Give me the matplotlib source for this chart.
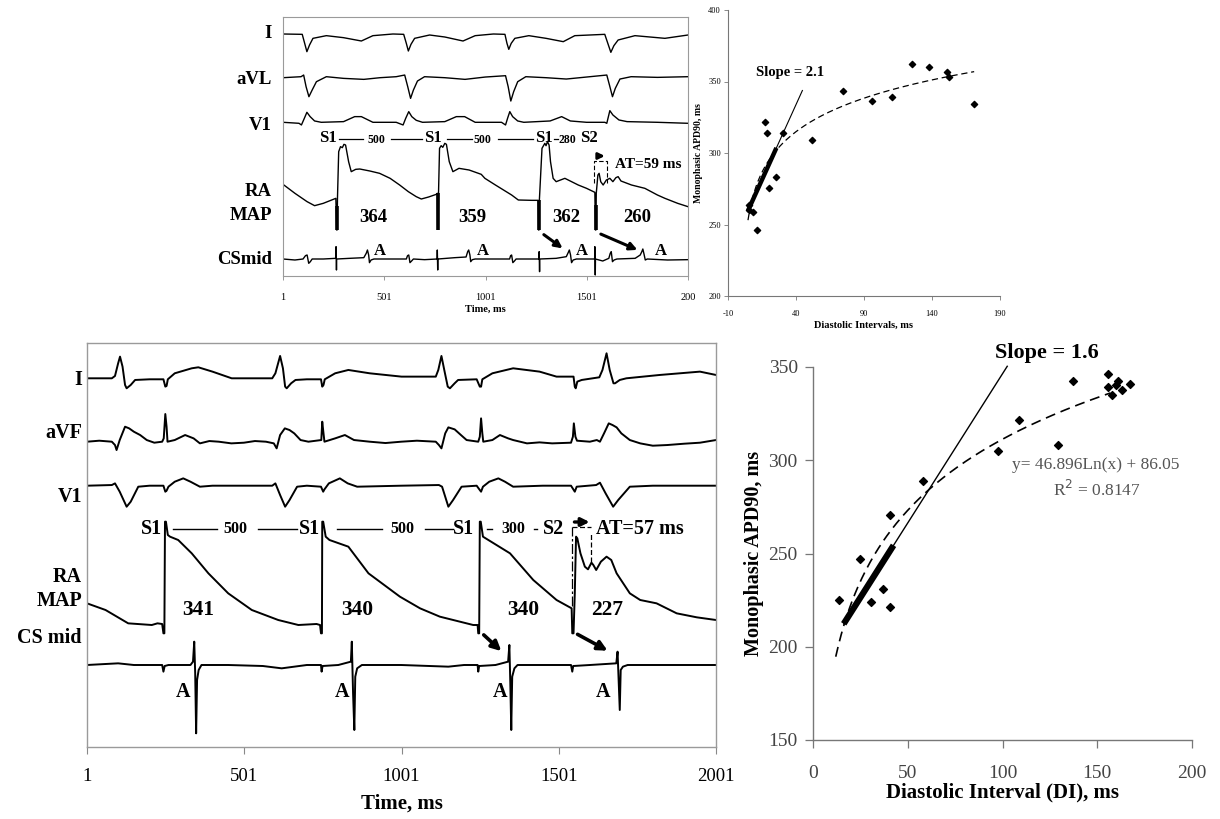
import numpy as np
import matplotlib.pyplot as plt
from matplotlib.transforms import blended_transform_factory

plt.rcParams['font.family'] = ['Liberation Serif', 'DejaVu Serif']
plt.rcParams['axes.unicode_minus'] = False

# ---------------- top recording (time in ms, deflection in screen units) ----------------
TOP_I_T = [1, 96, 108, 119, 132, 149, 215, 300, 388, 445, 544, 597, 610, 620, 633, 651, 725, 800, 890, 950,
           1040, 1097, 1107, 1116, 1128, 1146, 1215, 1300, 1385, 1442, 1590, 1605, 1620, 1635, 1656, 1739, 1887, 2001]
TOP_I_V = [0, -1, -28, -53, -33, -13, -5, -11, -21, -5, 0, -1, -28, -51, -31, -13, -3, -9, -21, -5,
           0, -1, -28, -46, -28, -13, -5, -13, -23, -5, -1, -28, -55, -35, -18, -5, -13, -3]

TOP_AVL_T = [1, 90, 103, 115, 129, 145, 166, 215, 300, 400, 480, 560, 602, 617, 631, 645, 665, 700, 800, 900,
             1000, 1100, 1113, 1126, 1140, 1160, 1200, 1300, 1400, 1500, 1600, 1614, 1628, 1642, 1665, 1720, 1850, 2001]
TOP_AVL_V = [-3, 0, 5, -30, -60, -40, -15, 0, -5, -8, -3, 0, 5, -30, -65, -40, -13, 0, -3, -8,
             -1, 3, -30, -73, -45, -15, 0, -3, -7, -1, 5, -27, -60, -35, -7, 0, -2, 0]

TOP_V1_T = [1, 80, 92, 105, 119, 135, 157, 190, 300, 355, 388, 445, 560, 594, 607, 622, 637, 659, 690, 800, 857,
            898, 950, 1080, 1100, 1110, 1121, 1135, 1160, 1190, 1320, 1377, 1420, 1500, 1590, 1600, 1615, 1630,
            1660, 1700, 1850, 2001]
TOP_V1_V = [0, -3, -8, 10, 30, 17, 4, 0, 2, 17, 17, 0, 0, -8, 12, 32, 17, 6, 0, 2, 17,
            17, 0, 0, -8, 12, 32, 17, 4, 0, 4, 17, 4, 0, 0, -3, 35, 22,
            7, 2, 0, -3]

TOP_MAP_T = [1, 60, 120, 157, 200, 262, 266, 268, 270, 276, 285, 294, 302, 310, 325, 338, 360, 380, 430, 478,
             530, 577, 620, 659, 684, 720, 758, 763, 765, 767, 769, 774, 782, 790, 800, 808, 822, 840, 870, 920,
             980, 998, 1050, 1130, 1163, 1230, 1261, 1263, 1265, 1267, 1280, 1294, 1300, 1307, 1315, 1322, 1335,
             1350, 1393, 1459, 1500, 1541, 1544, 1546, 1548, 1556, 1562, 1570, 1582, 1598, 1615, 1630, 1645,
             1656, 1670, 1722, 1788, 1850, 1887, 1950, 2001]
TOP_MAP_V = [47, 20, -5, -17, -10, 5, -90, -90, 5, 145, 160, 157, 167, 165, 115, 85, 92, 93, 87, 80,
             65, 45, 25, 10, 3, 9, 17, 20, -87, -87, 20, 155, 163, 158, 170, 167, 115, 85, 95, 90,
             77, 65, 45, 15, 0, -1, -1, -90, -90, -1, 155, 170, 163, 175, 165, 115, 65,
             55, 65, 45, 35, 23, -90, -90, 20, 75, 80, 55, 45, 60, 65, 55, 67,
             70, 57, 45, 35, 15, 5, -10, -20]

TOP_CS_T = [1, 60, 100, 112, 120, 128, 136, 145, 200, 262, 263, 265, 266, 330, 400, 412, 418, 424, 428, 436,
            450, 560, 610, 616, 622, 628, 636, 645, 700, 762, 763, 765, 766, 850, 905, 913, 918, 924, 928, 936,
            950, 1060, 1120, 1125, 1130, 1136, 1144, 1152, 1265, 1266, 1268, 1269, 1350, 1400, 1410, 1415,
            1421, 1426, 1434, 1450, 1540, 1541, 1543, 1544, 1580, 1610, 1617, 1622, 1628, 1636, 1650, 1740,
            1765, 1773, 1778, 1784, 1790, 1800, 1900, 2001]
TOP_CS_V = [0, -3, 0, 10, 12, -13, -8, 0, 0, 2, 37, -33, 0, 2, 4, 17, 27, 12, -11, -3,
            0, 0, 0, 10, 12, -11, -6, 0, -2, 0, 27, -33, 0, 4, 6, 22, 27, 12, -8, -2,
            0, 0, 0, 10, 12, -11, -6, 0, 0, 22, -38, 0, 2, 7, 20, 27,
            12, -11, -3, 0, 0, 37, -48, 0, -6, 2, 17, 22, -8, -3, 0, 2,
            12, 22, 30, 14, -3, 0, -3, -2]

TOP_STIM = [266, 766, 1264, 1545]
TOP_APD = ['364', '359', '362', '260']

# ---------------- bottom recording ----------------
BOT_I_T = [1, 80, 90, 100, 106, 114, 122, 127, 140, 154, 200, 244, 250, 254, 258, 280, 334, 355, 400, 461,
           540, 590, 600, 615, 624, 631, 636, 650, 664, 700, 745, 749, 753, 757, 790, 832, 900, 1001, 1110,
           1118, 1128, 1137, 1148, 1155, 1170, 1181, 1240, 1250, 1254, 1258, 1290, 1356, 1440, 1494, 1548,
           1552, 1555, 1560, 1574, 1630, 1640, 1653, 1663, 1675, 1680, 1695, 1716, 1822, 1950, 2001]
BOT_I_V = [0, 0, 7, 45, 65, 35, -20, -30, -20, -5, -3, -3, -25, -23, -3, 15, 30, 33, 20, 0,
           0, 0, 15, 67, 30, -25, -30, -15, -5, -3, -3, -25, -20, -3, 15, 25, 15, 5, 5,
           25, 67, 25, -25, -30, -15, -5, -3, -25, -25, -3, 15, 30, 20, 5, 5,
           -25, -30, -10, -5, 3, 25, 75, 25, -15, -15, -5, 0, 10, 20, 10]

BOT_AVF_T = [1, 40, 80, 90, 95, 105, 122, 135, 150, 170, 191, 215, 240, 245, 250, 254, 257, 280, 313, 340,
             360, 390, 420, 460, 500, 535, 570, 595, 604, 615, 630, 645, 660, 680, 705, 746, 749, 753, 756,
             790, 821, 850, 900, 950, 1000, 1050, 1110, 1120, 1128, 1140, 1150, 1170, 1190, 1208, 1245, 1250,
             1254, 1258, 1261, 1290, 1314, 1340, 1356, 1400, 1440, 1480, 1540, 1546, 1549, 1554, 1559, 1600,
             1622, 1632, 1645, 1660, 1672, 1685, 1700, 1727, 1760, 1800, 1846, 1900, 1950, 2001]
BOT_AVF_V = [0, 3, 0, -10, -25, 5, 45, 40, 30, 20, 5, -3, 0, 10, 83, 45, 0, 5, 20, 10,
             -5, 2, 0, -5, -3, 2, 0, -5, -20, 20, 40, 35, 25, 5, 0, 5, 60, 25, 0,
             10, 20, 5, 0, -4, 0, 3, 0, -10, -20, 25, 43, 37, 20, 5, 0, 15,
             70, 25, 0, 5, 20, 10, 5, -5, -2, -5, -3, 15, 55, 15, 3, 0,
             5, 0, 25, 55, 50, 43, 25, 5, -5, -12, -10, -6, -3, 5]

BOT_V1_T = [1, 80, 90, 105, 127, 140, 164, 200, 244, 250, 254, 260, 280, 307, 330, 360, 400, 590, 600, 615,
            631, 645, 669, 700, 745, 752, 756, 770, 805, 830, 860, 1000, 1120, 1130, 1150, 1165, 1192, 1240,
            1250, 1254, 1260, 1280, 1309, 1330, 1356, 1450, 1540, 1552, 1558, 1620, 1632, 1650, 1674, 1690,
            1727, 1800, 2001]
BOT_V1_V = [0, 2, 7, -18, -63, -48, -3, 0, 0, -18, -15, -3, 12, 22, 12, -3, 0, 0, 7, -28,
            -63, -43, -3, 0, -3, -18, -11, 7, 22, 7, -3, 0, 2, -3, -63, -43, -3, 0,
            -13, -18, -3, 12, 22, 12, -3, 0, 0, -18, -3, 2, 9, -23, -63, -43,
            -3, 0, 0]

BOT_MAP_T = [1, 60, 132, 207, 225, 240, 244, 247, 249, 252, 258, 265, 291, 334, 387, 450, 525, 609, 673, 731,
             742, 745, 748, 749, 752, 760, 772, 832, 896, 996, 1060, 1123, 1229, 1243, 1245, 1248, 1250, 1253,
             1260, 1346, 1420, 1494, 1542, 1544, 1548, 1552, 1556, 1560, 1570, 1584, 1594, 1605, 1611, 1620,
             1635, 1653, 1668, 1685, 1727, 1760, 1812, 1876, 1940, 2001]
BOT_MAP_V = [65, 45, 5, 0, 5, 3, -25, -25, 310, 310, 270, 265, 255, 215, 155, 95, 45, 15, 0, 3,
             0, -25, -25, 310, 310, 265, 255, 235, 155, 85, 50, 25, 0, 0, -25, -25, 310, 310,
             265, 215, 135, 75, 50, -25, -25, 95, 265, 260, 215, 175, 167, 187, 180, 165,
             190, 205, 195, 155, 95, 75, 65, 35, 23, 15]

BOT_CS_T = [1, 60, 100, 150, 240, 244, 248, 260, 330, 338, 342, 345, 348, 351, 356, 365, 450, 560, 620, 660,
            700, 745, 747, 750, 800, 840, 843, 847, 851, 854, 860, 875, 1000, 1150, 1200, 1243, 1245, 1248,
            1300, 1340, 1344, 1347, 1350, 1353, 1360, 1370, 1540, 1544, 1547, 1600, 1684, 1688, 1691, 1695,
            1698, 1705, 1720, 2001]
BOT_CS_V = [0, 3, 5, 0, 0, -20, -3, 0, 0, 10, 70, -25, -205, -45, -15, 0, 0, -3, -10, -5,
            0, 0, -20, -3, 0, 10, 70, -85, -195, -35, -10, 0, 0, -5, 0, 0, -20, -3,
            0, 10, 60, -55, -195, -35, -10, 0, 0, -20, -3, 0, 5, 40, -35, -135,
            -15, -5, 0, 0]

BOT_APD = ['341', '340', '340', '227']

TIME_TICKS = [1, 501, 1001, 1501, 2001]

# ---------------- restitution scatter data ----------------
TR_DI = [5.5, 5.2, 8.4, 11.6, 17.2, 18.7, 20.4, 25.1, 30.5, 52.1, 74.2, 96.0, 110.5, 125.5, 137.5, 150.7,
         152.7, 170.9]
TR_APD = [263.6, 260.1, 259.0, 246.2, 321.4, 314.2, 275.3, 283.4, 314.2, 309.1, 343.6, 336.1, 339.2, 362.2,
          360.4, 356.4, 352.9, 334.0]
TR_LOG_FIT = (28.9, 208.3)       # a*ln(x)+b as drawn
TR_FIT_RANGE = (4.7, 171.0)
TR_SLOPE = 2.1
TR_SLOPE_START = (4.7, 259.7)
TR_SLOPE_ENDS = (25.6, 44.7)     # thick part, thin part

BR_DI = [13.5, 24.9, 30.6, 36.9, 40.7, 40.7, 57.9, 97.5, 108.9, 129.4, 137.0, 155.8, 155.8, 158.0, 161.0,
         160.1, 162.8, 167.2]
BR_APD = [225.1, 247.0, 224.2, 231.0, 270.9, 221.2, 288.8, 304.7, 321.7, 308.0, 342.7, 346.1, 339.3, 335.0,
          342.3, 340.5, 337.8, 341.1]
BR_LOG_FIT = (55.0, 58.0)
BR_FIT_RANGE = (12.0, 157.0)
BR_SLOPE = 1.6
BR_SLOPE_START = (16.2, 212.3)
BR_SLOPE_ENDS = (42.5, 102.5)

# ---------------- layout ----------------
GAIN = 1 / 3.0
TOP_BASE = {'I': 34, 'aVL': 76.7, 'V1': 122.3, 'MAP': 200, 'CS': 259}
BOT_BASE = {'I': 378.3, 'aVF': 441.7, 'V1': 485.7, 'MAP': 625, 'CS': 665}

W, H = 1220, 819
fig = plt.figure(figsize=(W / 100, H / 100), dpi=100)


def box(x0, y0, x1, y1):
    return [x0 / W, 1 - y1 / H, (x1 - x0) / W, (y1 - y0) / H]


def trace(ax, t, v, base, lw):
    y = -base + np.array(v) * GAIN
    ax.plot(t, y, color='black', lw=lw, solid_joinstyle='round')
    return y


BOLD = dict(fontweight='bold', color='black')

# ======== top-left recording ========
ax1 = fig.add_axes(box(283, 17, 688, 276))
ax1.set_xlim(1, 2001)
ax1.set_ylim(-276, -17)
trace(ax1, TOP_I_T, TOP_I_V, TOP_BASE['I'], 1.0)
trace(ax1, TOP_AVL_T, TOP_AVL_V, TOP_BASE['aVL'], 1.0)
trace(ax1, TOP_V1_T, TOP_V1_V, TOP_BASE['V1'], 1.0)
map_y = trace(ax1, TOP_MAP_T, TOP_MAP_V, TOP_BASE['MAP'], 1.0)
trace(ax1, TOP_CS_T, TOP_CS_V, TOP_BASE['CS'], 1.0)
for s in TOP_STIM:
    ax1.vlines(s, -230, np.interp(s - 3, TOP_MAP_T, map_y), color='black', lw=2.6)

tr1 = blended_transform_factory(ax1.transAxes, ax1.transData)
for lab, py in [('I', 33), ('aVL', 80), ('V1', 126), ('RA', 192), ('MAP', 216), ('CSmid', 260)]:
    ax1.text(-0.027, -py, lab, transform=tr1, ha='right', va='center', fontsize=13.5, **BOLD)

for t, s in [(225, 'S1'), (742, 'S1'), (1288, 'S1'), (1511, 'S2')]:
    ax1.text(t, -138, s, ha='center', va='center', fontsize=12, **BOLD)
for t, s in [(460, '500'), (984, '500'), (1405, '280')]:
    ax1.text(t, -140, s, ha='center', va='center', fontsize=8.5, **BOLD)
for a, b in [(279, 398), (533, 686), (809, 933), (1061, 1237), (1341, 1361)]:
    ax1.plot([a, b], [-139, -139], color='black', lw=0.9)

for t, s in zip([445, 934, 1398, 1749], TOP_APD):
    ax1.text(t, -217, s, ha='center', va='center', fontsize=13.5, **BOLD)
for t in [478, 989, 1476, 1866]:
    ax1.text(t, -251, 'A', ha='center', va='center', fontsize=12, **BOLD)
for (t0, y0), (t1, y1) in [((1278, 233), (1393, 250)), ((1558, 233), (1764, 251))]:
    ax1.annotate('', xy=(t1, -y1), xytext=(t0, -y0),
                 arrowprops=dict(arrowstyle='-|>', color='black', lw=2.2, mutation_scale=11))
ax1.plot([1537, 1537, 1602, 1602], [-183, -161, -161, -183], color='black', lw=0.8, ls=(0, (4, 2)))
ax1.annotate('', xy=(1604, -156), xytext=(1540, -156),
             arrowprops=dict(arrowstyle='-|>', color='black', lw=2, mutation_scale=9))
ax1.text(1805, -164, 'AT=59 ms', ha='center', va='center', fontsize=11, **BOLD)

ax1.set_yticks([])
ax1.set_xticks(TIME_TICKS)
ax1.set_xticklabels(['1', '501', '1001', '1501', '200'], fontsize=7.5)
ax1.tick_params(axis='x', length=3, width=0.6, color='#888888', pad=9)
for sp in ax1.spines.values():
    sp.set_color('#9a9a9a')
    sp.set_linewidth(0.8)
ax1.set_xlabel('Time, ms', fontsize=7.5, fontweight='bold', labelpad=2)

# ======== top-right restitution ========
ax2 = fig.add_axes(box(728, 10, 1000, 296))
ax2.set_xlim(-10, 190)
ax2.set_ylim(200, 400)
ax2.scatter(TR_DI, TR_APD, marker='D', s=10, color='black', zorder=3)
a, b = TR_LOG_FIT
xs = np.linspace(*TR_FIT_RANGE, 200)
ax2.plot(xs, a * np.log(xs) + b, color='black', lw=0.9, ls=(0, (5, 3)))
x0, y0 = TR_SLOPE_START
ax2.plot([x0, TR_SLOPE_ENDS[1]], [y0, y0 + TR_SLOPE * (TR_SLOPE_ENDS[1] - x0)], color='black', lw=0.8)
ax2.plot([x0, TR_SLOPE_ENDS[0]], [y0, y0 + TR_SLOPE * (TR_SLOPE_ENDS[0] - x0)], color='black', lw=3.2,
         solid_capstyle='butt')
ax2.text(35.7, 356.6, 'Slope = 2.1', ha='center', va='center', fontsize=10.5, **BOLD)
ax2.set_xticks([-10, 40, 90, 140, 190])
ax2.set_yticks([200, 250, 300, 350, 400])
ax2.tick_params(labelsize=6, length=3, width=0.6, color='#777777', pad=2)
ax2.tick_params(axis='x', pad=7)
for sp in ['top', 'right']:
    ax2.spines[sp].set_visible(False)
for sp in ['left', 'bottom']:
    ax2.spines[sp].set_color('#777777')
    ax2.spines[sp].set_linewidth(0.8)
ax2.set_xlabel('Diastolic Intervals, ms', fontsize=7.5, fontweight='bold', labelpad=2)
ax2.set_ylabel('Monophasic APD90, ms', fontsize=7, fontweight='bold', labelpad=4)

# ======== bottom-left recording ========
ax3 = fig.add_axes(box(87, 343, 716, 747))
ax3.set_xlim(1, 2001)
ax3.set_ylim(-747, -343)
trace(ax3, BOT_I_T, BOT_I_V, BOT_BASE['I'], 1.4)
trace(ax3, BOT_AVF_T, BOT_AVF_V, BOT_BASE['aVF'], 1.4)
trace(ax3, BOT_V1_T, BOT_V1_V, BOT_BASE['V1'], 1.4)
trace(ax3, BOT_MAP_T, BOT_MAP_V, BOT_BASE['MAP'], 1.4)
trace(ax3, BOT_CS_T, BOT_CS_V, BOT_BASE['CS'], 1.4)

tr3 = blended_transform_factory(ax3.transAxes, ax3.transData)
for lab, py in [('I', 380), ('aVF', 433), ('V1', 497), ('RA', 577), ('MAP', 601), ('CS mid', 638)]:
    ax3.text(-0.008, -py, lab, transform=tr3, ha='right', va='center', fontsize=14.5, **BOLD)

for t, s in [(207, 'S1'), (710, 'S1'), (1198, 'S1'), (1484, 'S2')]:
    ax3.text(t, -529, s, ha='center', va='center', fontsize=14.5, **BOLD)
for t, s in [(472, '500'), (1003, '500'), (1357, '300')]:
    ax3.text(t, -529, s, ha='center', va='center', fontsize=11.5, **BOLD)
for a, b in [(275, 413), (545, 668), (795, 938), (1076, 1166), (1274, 1288), (1421, 1431)]:
    ax3.plot([a, b], [-529, -529], color='black', lw=1.0)
for t, s in zip([355, 859, 1388, 1654], BOT_APD):
    ax3.text(t, -610, s, ha='center', va='center', fontsize=15.5, **BOLD)
for t in [307, 811, 1314, 1643]:
    ax3.text(t, -692, 'A', ha='center', va='center', fontsize=14.5, **BOLD)
for (t0, y0), (t1, y1) in [((1256, 633), (1325, 653)), ((1553, 633), (1664, 652))]:
    ax3.annotate('', xy=(t1, -y1), xytext=(t0, -y0),
                 arrowprops=dict(arrowstyle='-|>', color='black', lw=2.6, mutation_scale=14))
ax3.plot([1544, 1544], [-606, -527], color='black', lw=0.9, ls=(0, (8, 2, 2, 2)))
ax3.plot([1544, 1602], [-527, -527], color='black', lw=0.9, ls=(0, (4, 2)))
ax3.plot([1602, 1602], [-562, -533], color='black', lw=0.9, ls=(0, (4, 2)))
ax3.annotate('', xy=(1608, -522), xytext=(1542, -522),
             arrowprops=dict(arrowstyle='-|>', color='black', lw=2.4, mutation_scale=12))
ax3.text(1760, -529, 'AT=57 ms', ha='center', va='center', fontsize=14.5, **BOLD)

ax3.set_yticks([])
ax3.set_xticks(TIME_TICKS)
ax3.set_xticklabels([str(v) for v in TIME_TICKS], fontsize=13.5)
ax3.tick_params(axis='x', length=5, width=0.8, color='#888888', pad=10)
for sp in ax3.spines.values():
    sp.set_color('#9a9a9a')
    sp.set_linewidth(1.0)
ax3.set_xlabel('Time, ms', fontsize=15, fontweight='bold', labelpad=6)

# ======== bottom-right restitution ========
ax4 = fig.add_axes(box(813, 367, 1192, 740))
ax4.set_xlim(0, 200)
ax4.set_ylim(150, 350)
ax4.scatter(BR_DI, BR_APD, marker='D', s=16, color='black', zorder=3)
a, b = BR_LOG_FIT
xs = np.linspace(*BR_FIT_RANGE, 200)
ax4.plot(xs, a * np.log(xs) + b, color='black', lw=1.2, ls=(0, (6, 3.5)))
x0, y0 = BR_SLOPE_START
ax4.plot([x0, BR_SLOPE_ENDS[1]], [y0, y0 + BR_SLOPE * (BR_SLOPE_ENDS[1] - x0)], color='black', lw=1.0,
         clip_on=False)
ax4.plot([x0, BR_SLOPE_ENDS[0]], [y0, y0 + BR_SLOPE * (BR_SLOPE_ENDS[0] - x0)], color='black', lw=4.5,
         solid_capstyle='butt')
ax4.text(123.5, 357.5, 'Slope = 1.6', ha='center', va='center', fontsize=16, clip_on=False, **BOLD)
ax4.text(149.3, 297.5, 'y= 46.896Ln(x) + 86.05', ha='center', va='center', fontsize=12.5, color='#555555')
ax4.text(150, 284, 'R$^2$ = 0.8147', ha='center', va='center', fontsize=12.5, color='#555555')
ax4.set_xticks([0, 50, 100, 150, 200])
ax4.set_yticks([150, 200, 250, 300, 350])
ax4.tick_params(labelsize=14, length=6, width=0.9, color='#777777', labelcolor='#444444', pad=5)
ax4.tick_params(axis='x', pad=12)
for sp in ['top', 'right']:
    ax4.spines[sp].set_visible(False)
for sp in ['left', 'bottom']:
    ax4.spines[sp].set_color('#777777')
    ax4.spines[sp].set_linewidth(1.0)
ax4.set_xlabel('Diastolic Interval (DI), ms', fontsize=15, fontweight='bold', labelpad=0)
ax4.set_ylabel('Monophasic APD90, ms', fontsize=14.5, fontweight='bold', labelpad=3)

fig.savefig('out.png', dpi=100, facecolor='white')
